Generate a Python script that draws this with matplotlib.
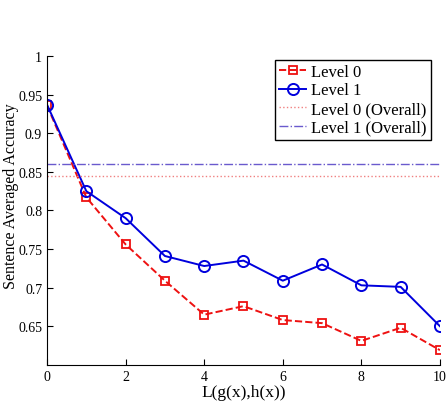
import numpy as np
import matplotlib
matplotlib.use('Agg')
from matplotlib import pyplot as plt

plt.rcParams['font.family'] = ['Liberation Serif', 'DejaVu Serif']

x = np.arange(0, 11)
level0 = [0.936, 0.817, 0.756, 0.709, 0.665, 0.676, 0.658, 0.654, 0.631, 0.648, 0.619]
level1 = [0.937, 0.825, 0.790, 0.741, 0.728, 0.735, 0.709, 0.730, 0.703, 0.701, 0.650]
level0_overall = 0.845
level1_overall = 0.860

xticks = [0, 2, 4, 6, 8, 10]
yticks = [0.65, 0.7, 0.75, 0.8, 0.85, 0.9, 0.95, 1]
yticklabels = ['0.65', '0.7', '0.75', '0.8', '0.85', '0.9', '0.95', '1']

fig = plt.figure(figsize=(4.48, 4.02), dpi=100)
ax = fig.add_axes([0.105, 0.09, 0.877, 0.768])

ax.plot(x, level0, color='#ee1111', ls='--', lw=1.4, marker='s', ms=6,
        mfc='none', mew=1.3, label='Level 0')
ax.plot(x, level1, color='#0000dd', ls='-', lw=1.4, marker='o', ms=8,
        mfc='none', mew=1.4, label='Level 1')
ax.plot([0, 10], [level0_overall] * 2, color='#f08080', ls=':', lw=1.0,
        label='Level 0 (Overall)')
ax.plot([0, 10], [level1_overall] * 2, color='#6a5acd', ls='-.', lw=1.0,
        label='Level 1 (Overall)')

ax.set_xlim(0, 10)
ax.set_ylim(0.6, 1)
ax.set_xticks(xticks)
ax.set_yticks(yticks)
ax.set_yticklabels(yticklabels)
ax.tick_params(direction='in', labelsize=10, length=4)
ax.spines['top'].set_visible(False)
ax.spines['right'].set_visible(False)
ax.set_xlabel('L(g(x),h(x))', fontsize=12.5, labelpad=1)
ax.set_ylabel('Sentence Averaged Accuracy', fontsize=11.5)
ax.yaxis.set_label_coords(-0.072, 0.55)

leg = ax.legend(loc='upper right', bbox_to_anchor=(0.998, 1.015), fontsize=12,
                handlelength=1.6, handletextpad=0.3, borderpad=0.25,
                labelspacing=0.15, fancybox=False, framealpha=1)
leg.get_frame().set_edgecolor('black')
leg.get_frame().set_linewidth(1.0)

plt.savefig('out.png', dpi=100)
